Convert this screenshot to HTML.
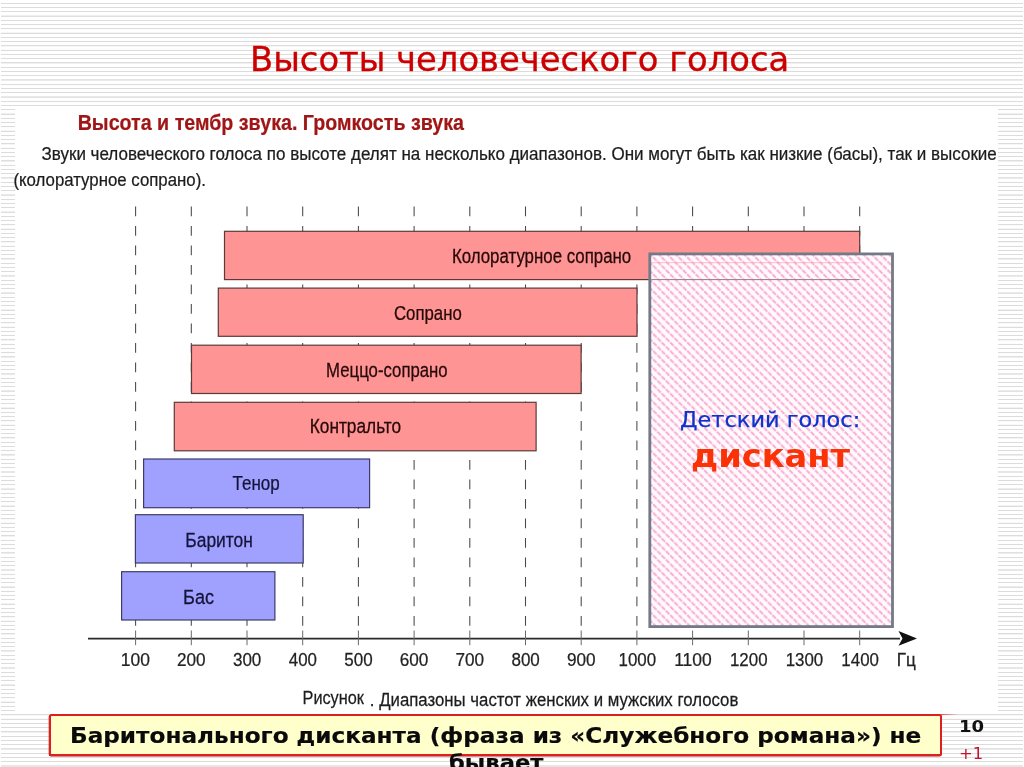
<!DOCTYPE html>
<html lang="ru">
<head>
<meta charset="utf-8">
<title>Высоты человеческого голоса</title>
<style>
html,body{margin:0;padding:0;width:1024px;height:767px;overflow:hidden;}
.slide{position:absolute;left:0;top:0;width:1024px;height:767px;overflow:hidden;background:#fff;}
body{width:1024px;height:767px;overflow:hidden;position:relative;background:#fff;font-family:"DejaVu Sans","Liberation Sans",sans-serif;}
.stripes{position:absolute;left:1px;top:0;width:1021.5px;height:767px;
 background:repeating-linear-gradient(to bottom,#ffffff 0px,#ffffff 2.6px,#dcdcdc 2.85px,#dcdcdc 3.7px,#ffffff 3.95px,#ffffff 4.2611px);}
.paper{position:absolute;left:14.5px;top:107.6px;width:983.5px;height:604.2px;background:#fff;}
.t{position:absolute;white-space:nowrap;transform-origin:0 0;}
.title{color:#cc0000;-webkit-text-stroke:0.35px #cc0000;}
.chart{position:absolute;left:0;top:0;}
.chart text{font-family:"Liberation Sans",sans-serif;fill:#1a1a1a;stroke:#1a1a1a;stroke-width:0.25px;}
.chart .lb{fill:#260808;stroke:#260808;}
.chart .lb2{fill:#14143a;stroke:#14143a;}
.chart .tk{fill:#222;stroke:#222;}
.chart .hd{font-weight:bold;fill:#a01515;stroke:#a01515;stroke-width:0.2px;}
.chart .pp{fill:#1c1c1c;stroke:#1c1c1c;}
.kid1{color:#0c33cc;-webkit-text-stroke:0.25px #0c33cc;}
.kid2{color:#fa3206;}
.note{position:absolute;left:49.2px;top:713.5px;width:888.9px;height:38.1px;border:2px solid #dc2020;border-radius:2.5px;background:#ffffcc;box-shadow:-0.3px 0.5px 0 #c01818;}
.nt{color:#0a0a0a;-webkit-text-stroke:0.2px #0a0a0a;}
.redtail{position:absolute;left:941px;top:713.8px;width:18px;height:1.1px;background:linear-gradient(to right,rgba(220,40,40,0.75),rgba(220,40,40,0));}
.pn{color:#111;}
.pl{color:#c41230;}
</style>
</head>
<body>
<div class="slide">
<div class="stripes"></div>
<div class="paper"></div>
<div class="t title" style="left:250.37px;top:36.18px;font-size:33px;transform:scaleX(1.0233);line-height:48px;font-weight:normal;">Высоты человеческого голоса</div>
<svg class="chart" width="1024" height="767" viewBox="0 0 1024 767">
<defs>
<pattern id="hatch" patternUnits="userSpaceOnUse" width="8.52" height="8.52" x="651" y="255">
<rect width="8.52" height="8.52" fill="#fffafd"/>
<path d="M-2.13,-2.13 L10.65,10.65 M-2.13,6.39 L2.13,10.65 M6.39,-2.13 L10.65,2.13" stroke="#faadd2" stroke-width="1.95" stroke-dasharray="4.9 1.12" fill="none"/>
</pattern>
</defs>
<g stroke="#484848" stroke-width="1.05" stroke-dasharray="9.75 9.75" fill="none">
<path d="M135.6,206.6 V630"/>
<path d="M191.3,206.6 V630"/>
<path d="M247.0,206.6 V630"/>
<path d="M302.7,206.6 V630"/>
<path d="M358.4,206.6 V630"/>
<path d="M414.1,206.6 V630"/>
<path d="M469.8,206.6 V630"/>
<path d="M525.5,206.6 V630"/>
<path d="M581.2,206.6 V630"/>
<path d="M636.9,206.6 V630"/>
<path d="M692.6,206.6 V630"/>
<path d="M748.3,206.6 V630"/>
<path d="M804.0,206.6 V630"/>
<path d="M859.7,206.6 V630"/>
</g>
<rect x="224.5" y="231.3" width="635.2" height="48.3" fill="#ff9494" stroke="#5b3a3a" stroke-width="1.2"/>
<rect x="218.3" y="288.1" width="418.7" height="48.2" fill="#ff9494" stroke="#5b3a3a" stroke-width="1.2"/>
<rect x="191.5" y="345.2" width="389.6" height="48.3" fill="#ff9494" stroke="#5b3a3a" stroke-width="1.2"/>
<rect x="174.3" y="402.3" width="361.8" height="48.5" fill="#ff9494" stroke="#5b3a3a" stroke-width="1.2"/>
<rect x="143.6" y="459.0" width="226.0" height="48.7" fill="#a0a0ff" stroke="#3c3c66" stroke-width="1.2"/>
<rect x="135.4" y="514.7" width="167.8" height="48.3" fill="#a0a0ff" stroke="#3c3c66" stroke-width="1.2"/>
<rect x="121.6" y="571.7" width="153.3" height="48.3" fill="#a0a0ff" stroke="#3c3c66" stroke-width="1.2"/>
<path d="M88,638.6 H900" stroke="#2a2a2a" stroke-width="1.7" fill="none"/>
<path d="M917,638.4 L898.5,631 L902.5,638.4 L898.5,645.8 Z" fill="#111"/>
<g stroke="#6a6a6a" stroke-width="1" fill="none">
<path d="M135.6,630.5 V645.2"/>
<path d="M191.3,630.5 V645.2"/>
<path d="M247.0,630.5 V645.2"/>
<path d="M302.7,630.5 V645.2"/>
<path d="M358.4,630.5 V645.2"/>
<path d="M414.1,630.5 V645.2"/>
<path d="M469.8,630.5 V645.2"/>
<path d="M525.5,630.5 V645.2"/>
<path d="M581.2,630.5 V645.2"/>
<path d="M636.9,630.5 V645.2"/>
<path d="M692.6,630.5 V645.2"/>
<path d="M748.3,630.5 V645.2"/>
<path d="M804.0,630.5 V645.2"/>
<path d="M859.7,630.5 V645.2"/>
</g>
<text class="lb" style="font-size:19.5px" transform="translate(451.90,263.0) scale(0.8643,1)">Колоратурное сопрано</text>
<text class="lb" style="font-size:19.5px" transform="translate(393.94,319.8) scale(0.8610,1)">Сопрано</text>
<text class="lb" style="font-size:19.5px" transform="translate(326.11,376.5) scale(0.8603,1)">Меццо-сопрано</text>
<text class="lb" style="font-size:19.5px" transform="translate(309.77,433.2) scale(0.8864,1)">Контральто</text>
<text class="lb2" style="font-size:19.5px" transform="translate(232.56,490.0) scale(0.8720,1)">Тенор</text>
<text class="lb2" style="font-size:19.5px" transform="translate(185.26,546.8) scale(0.8935,1)">Баритон</text>
<text class="lb2" style="font-size:19.5px" transform="translate(183.01,603.5) scale(0.9280,1)">Бас</text>
<text class="tk" style="font-size:18.7px" transform="translate(120.80,666.1) scale(0.9345,1)">100</text>
<text class="tk" style="font-size:18.7px" transform="translate(176.98,666.1) scale(0.9186,1)">200</text>
<text class="tk" style="font-size:18.7px" transform="translate(232.92,666.1) scale(0.9109,1)">300</text>
<text class="tk" style="font-size:18.7px" transform="translate(288.85,666.1) scale(0.9033,1)">400</text>
<text class="tk" style="font-size:18.7px" transform="translate(344.32,666.1) scale(0.9109,1)">500</text>
<text class="tk" style="font-size:18.7px" transform="translate(399.78,666.1) scale(0.9186,1)">600</text>
<text class="tk" style="font-size:18.7px" transform="translate(455.48,666.1) scale(0.9186,1)">700</text>
<text class="tk" style="font-size:18.7px" transform="translate(511.42,666.1) scale(0.9109,1)">800</text>
<text class="tk" style="font-size:18.7px" transform="translate(566.88,666.1) scale(0.9186,1)">900</text>
<text class="tk" style="font-size:18.7px" transform="translate(618.54,666.1) scale(0.9045,1)">1000</text>
<text class="tk" style="font-size:18.7px" transform="translate(674.20,666.1) scale(0.9342,1)">1100</text>
<text class="tk" style="font-size:18.7px" transform="translate(729.94,666.1) scale(0.9045,1)">1200</text>
<text class="tk" style="font-size:18.7px" transform="translate(785.64,666.1) scale(0.9045,1)">1300</text>
<text class="tk" style="font-size:18.7px" transform="translate(841.34,666.1) scale(0.9045,1)">1400</text>
<text class="tk" style="font-size:18.7px" transform="translate(896.83,666.1) scale(0.9158,1)">Гц</text>
<text class="hd" style="font-size:22.3px" transform="translate(77.68,129.8) scale(0.8815,1)">Высота и тембр звука. Громкость звука</text>
<text class="pp" style="font-size:18.3px" transform="translate(41.50,160.1) scale(0.9302,1)">Звуки человеческого голоса по высоте делят на несколько диапазонов. Они могут быть как низкие (басы), так и высокие</text>
<text class="pp" style="font-size:18.3px" transform="translate(13.45,185.9) scale(0.9191,1)">(колоратурное сопрано).</text>
<text class="pp" style="font-size:19px" transform="translate(302.51,704.3) scale(0.8584,1)">Рисунок</text>
<text class="pp" style="font-size:19px" transform="translate(369.85,705.6) scale(0.8842,1)">. Диапазоны частот женских и мужских голосов</text>
<rect x="649.8" y="253.9" width="242.7" height="372.7" fill="url(#hatch)" stroke="#727a88" stroke-width="2.8"/>
<path d="M651.3,262.7 H859.5" stroke="#ff9aa6" stroke-width="0.8" opacity="0.8"/>
<path d="M651.3,279.6 H859.5" stroke="#8a8088" stroke-width="1"/>
</svg>
<div class="t kid1" style="left:679.85px;top:396.20px;font-size:21.4px;transform:scaleX(1.0502);line-height:48px;font-weight:normal;">Детский голос:</div>
<div class="t kid2" style="left:691.08px;top:431.52px;font-size:32.3px;transform:scaleX(1.0428);line-height:48px;font-weight:bold;">дискант</div>
<div class="redtail"></div>
<div class="note"></div>
<div class="t nt" style="left:70.49px;top:711.63px;font-size:21px;transform:scaleX(1.1027);line-height:48px;font-weight:bold;">Баритонального дисканта (фраза из «Служебного романа») не</div>
<div class="t nt" style="left:448.62px;top:739.23px;font-size:21px;transform:scaleX(1.0786);line-height:48px;font-weight:bold;">бывает</div>
<div class="t pn" style="left:958.82px;top:702.66px;font-size:16px;transform:scaleX(1.1291);line-height:48px;font-weight:bold;">10</div>
<div class="t pl" style="left:959.21px;top:730.46px;font-size:16px;transform:scaleX(1.0244);line-height:48px;font-weight:normal;">+1</div>
</div>
</body>
</html>
